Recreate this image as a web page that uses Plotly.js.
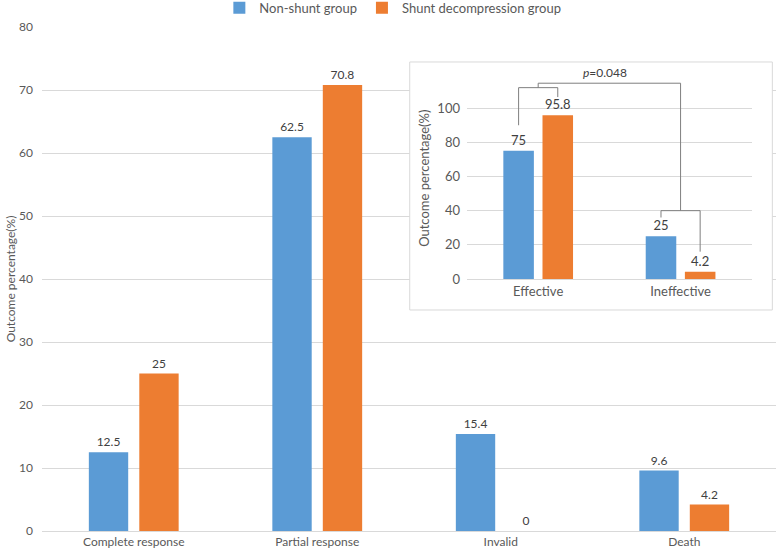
<!DOCTYPE html>
<html>
<head>
<meta charset="utf-8">
<script src="https://cdn.plot.ly/plotly-3.0.1.min.js"></script>
<style>
  html, body { margin: 0; padding: 0; background: #fff; }
  #chart { width: 778px; height: 557px; }
</style>
</head>
<body>
<div id="chart"></div>
<script>
// main chart
const categories = ['Complete response', 'Partial response', 'Invalid', 'Death'];
const nonShunt = [12.5, 62.5, 15.4, 9.6];
const shunt = [25, 70.8, 0, 4.2];
// inset chart
const insetCategories = ['Effective', 'Ineffective'];
const insetNonShunt = [75, 25];
const insetShunt = [95.8, 4.2];

const seriesNames = ['Non-shunt group', 'Shunt decompression group'];
const yTitle = 'Outcome percentage(%)';
const pValueText = '<i>p</i>=0.048';

const BLUE = '#5B9BD5';
const ORANGE = '#ED7D31';
const GRID = '#d9d9d9';
const TICK = '#595959';
const LABEL = '#404040';
const FONT = 'Lato, "Open Sans", sans-serif';
const BARGAP = 0.45;
const GROUPGAP = 0.22;
// distance of a bar centre from its category centre (category units)
const half = (1 - BARGAP) / 4;

function barTrace(x, y, name, color, axes, size, legend) {
    return {
        type: 'bar', x: x, y: y, name: name,
        xaxis: axes[0], yaxis: axes[1],
        marker: { color: color },
        text: y.map(String), textposition: 'outside', cliponaxis: false,
        textfont: { size: size, color: LABEL, family: FONT },
        showlegend: legend, hoverinfo: 'skip'
    };
}

const data = [
    barTrace(categories, nonShunt, seriesNames[0], BLUE, ['x', 'y'], 12, true),
    barTrace(categories, shunt, seriesNames[1], ORANGE, ['x', 'y'], 12, true),
    // empty trace so the white inset frame gets its own subplot background
    { type: 'scatter', x: [], y: [], xaxis: 'x2', yaxis: 'y2', showlegend: false },
    barTrace(insetCategories, insetNonShunt, seriesNames[0], BLUE, ['x3', 'y3'], 13, false),
    barTrace(insetCategories, insetShunt, seriesNames[1], ORANGE, ['x3', 'y3'], 13, false)
];

function seg(x0, y0, x1, y1) {
    return { type: 'line', xref: 'x3', yref: 'y3', x0: x0, y0: y0, x1: x1, y1: y1,
             line: { color: '#7f7f7f', width: 1 } };
}

const shapes = [
    { type: 'rect', xref: 'paper', yref: 'paper', x0: 0.501, x1: 0.995, y0: 0.4385, y1: 0.9306,
      line: { color: GRID, width: 1 }, fillcolor: 'rgba(0,0,0,0)', layer: 'above' },
    seg(-half, 90, -half, 112),
    seg(-half, 112, half, 112),
    seg(half, 112, half, 106.5),
    seg(0, 112, 0, 114.6),
    seg(0, 114.6, 1, 114.6),
    seg(1, 114.6, 1, 40),
    seg(1 - half, 40, 1 + half, 40),
    seg(1 - half, 40, 1 - half, 36),
    seg(1 + half, 40, 1 + half, 16)
];

const layout = {
    width: 778, height: 557,
    margin: { l: 42, r: 2, t: 27, b: 26, autoexpand: false },
    paper_bgcolor: '#fff', plot_bgcolor: '#fff',
    font: { family: FONT, color: TICK, size: 12 },
    barmode: 'group', bargap: BARGAP, bargroupgap: GROUPGAP,
    showlegend: true,
    legend: { orientation: 'h', x: 0.478, xanchor: 'center', y: 1.038, yanchor: 'middle',
              font: { size: 13, color: TICK }, itemwidth: 30 },
    xaxis: { domain: [0, 1], anchor: 'y', showgrid: false, showline: true, linecolor: GRID,
             ticks: '', tickfont: { size: 12, color: TICK } },
    yaxis: { domain: [0, 1], anchor: 'x', range: [0, 80], dtick: 10, gridcolor: GRID,
             zeroline: false, showline: false, ticks: '', ticklabelstandoff: 8,
             tickfont: { size: 12, color: TICK },
             title: { text: yTitle, font: { size: 12, color: TICK }, standoff: 0 } },
    xaxis2: { domain: [0.501, 0.995], anchor: 'y2', visible: false, range: [0, 1] },
    yaxis2: { domain: [0.4385, 0.9306], anchor: 'x2', visible: false, range: [0, 1] },
    xaxis3: { domain: [0.579, 0.967], anchor: 'y3', showgrid: false, showline: true, linecolor: GRID,
              ticks: '', tickfont: { size: 13, color: TICK } },
    yaxis3: { domain: [0.5, 0.9], anchor: 'x3', range: [0, 118], dtick: 20, gridcolor: GRID,
              zeroline: false, showline: false, ticks: '', ticklabelstandoff: 6,
              tickfont: { size: 13, color: TICK },
              title: { text: yTitle, font: { size: 13, color: TICK }, standoff: 4 } },
    shapes: shapes,
    annotations: [
        { xref: 'paper', yref: 'paper', x: 0.767, y: 0.909, xanchor: 'center', yanchor: 'middle',
          text: pValueText, showarrow: false, font: { size: 12, color: LABEL } }
    ]
};

Plotly.newPlot('chart', data, layout, { displayModeBar: false, staticPlot: true });
</script>
</body>
</html>
